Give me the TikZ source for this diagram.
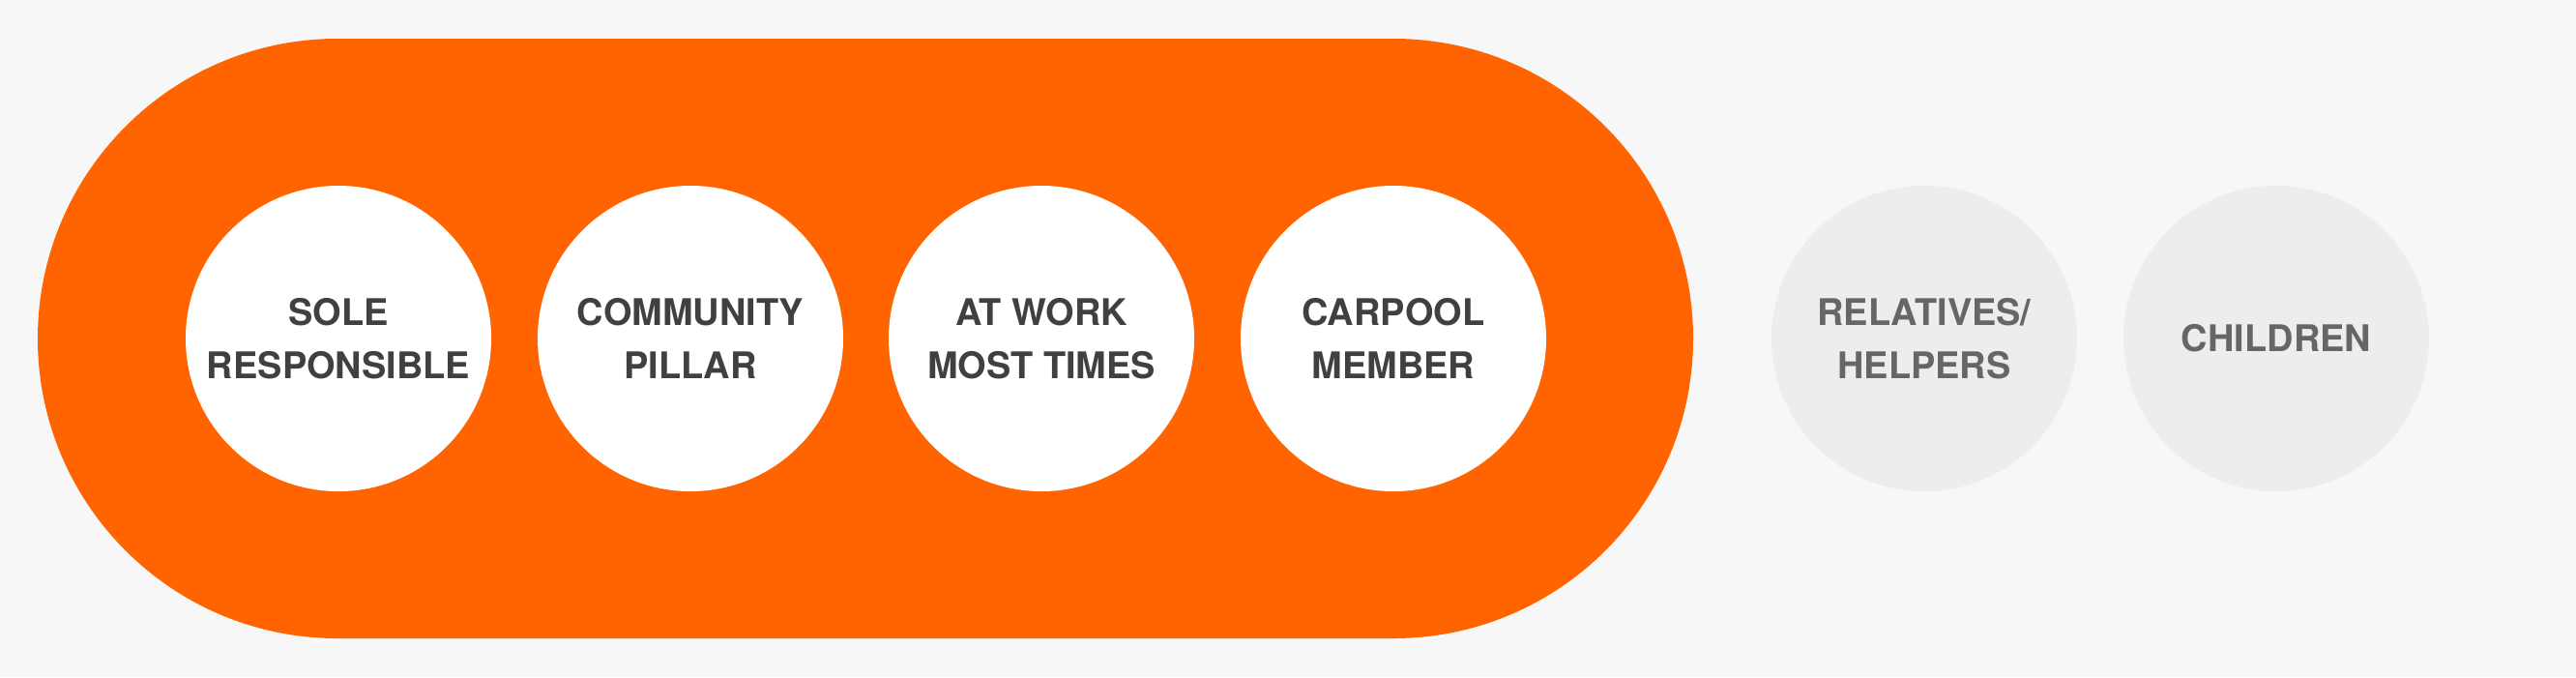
\documentclass[tikz,border=0pt]{standalone}
\usepackage{fontspec}
\setmainfont{TeX Gyre Heros}
\usepackage{xcolor}
\usepackage{tikz}

\definecolor{bgGray}{HTML}{F7F7F7}
\definecolor{ringOrange}{HTML}{FF6400}
\definecolor{outGray}{HTML}{EDEDED}
\definecolor{txtDark}{HTML}{404040}
\definecolor{txtGray}{HTML}{666666}

\begin{document}
\begin{tikzpicture}[
  role/.style={circle,minimum size=3.16cm,inner sep=0pt,fill=white,align=center,
               text=txtDark,font=\fontsize{10.8}{15.6}\selectfont\bfseries},
  outer/.style={role,fill=outGray,text=txtGray}]

  \fill[bgGray] (0,0) rectangle (26.64,7.00);
  \useasboundingbox (0,0) rectangle (26.64,7.00);

  % the group that carries the load
  \fill[ringOrange,rounded corners=3.1cm] (0.39,0.40) rectangle (17.51,6.60);

  \node[role]  (sole)  at (3.50,3.50)  {SOLE\\RESPONSIBLE};
  \node[role]  (pill)  at (7.14,3.50)  {COMMUNITY\\PILLAR};
  \node[role]  (work)  at (10.77,3.50) {AT WORK\\MOST TIMES};
  \node[role]  (pool)  at (14.41,3.50) {CARPOOL\\MEMBER};

  \node[outer] (help)  at (19.90,3.50) {RELATIVES/\\HELPERS};
  \node[outer] (kids)  at (23.54,3.50) {CHILDREN};
\end{tikzpicture}
\end{document}
